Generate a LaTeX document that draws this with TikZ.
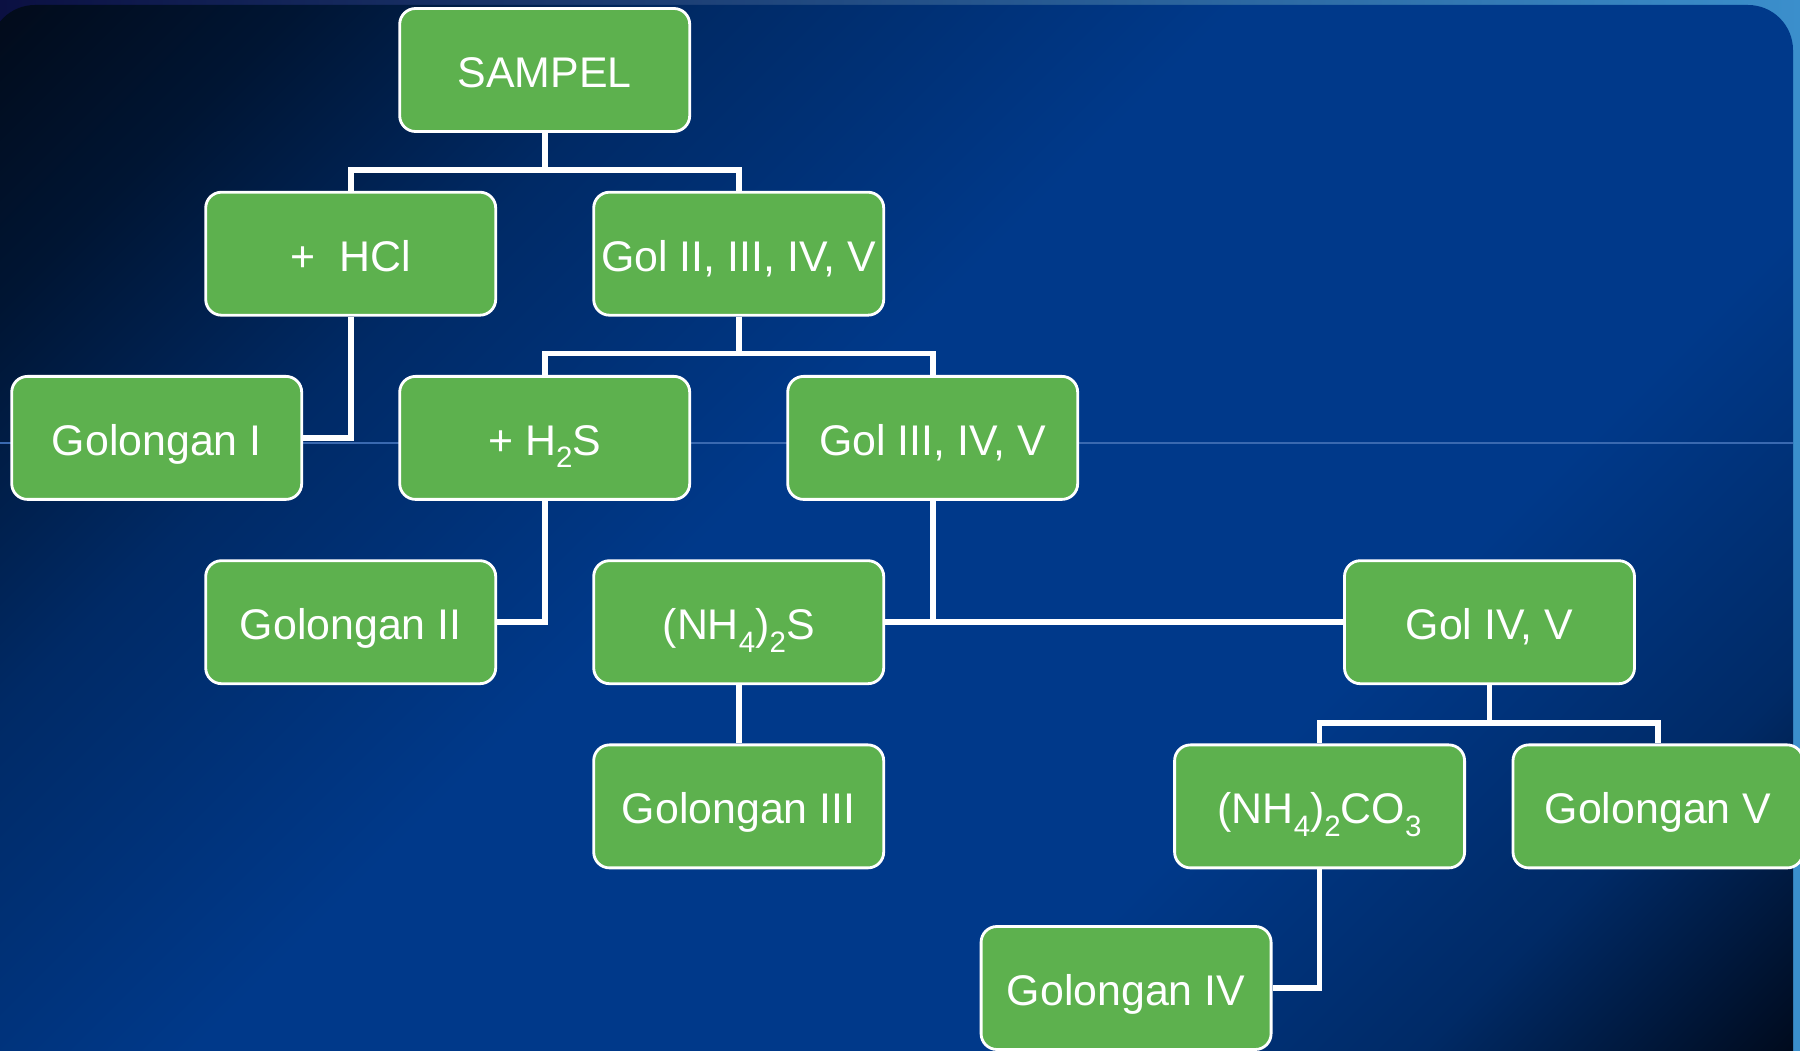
\documentclass[tikz,border=0pt]{standalone}
\usepackage{fontspec}
\setmainfont{Liberation Sans}
\usepackage{tikz}

\definecolor{boxgreen}{HTML}{5DB14E}
\definecolor{stripleft}{HTML}{0B1042}
\definecolor{stripmid}{HTML}{0D3E7A}
\definecolor{stripright}{HTML}{3B8FCC}
\definecolor{faintline}{HTML}{3A69B0}
\definecolor{bgdark}{HTML}{020A18}
\definecolor{bgdeep}{HTML}{001533}
\definecolor{bgnavy}{HTML}{002A66}
\definecolor{bgblue}{HTML}{00398A}
\definecolor{bgcorner}{HTML}{000B1E}
\pgfdeclareverticalshading{slidebg}{100bp}{color(0bp)=(bgcorner); color(16bp)=(bgcorner); color(25bp)=(bgnavy); color(36bp)=(bgblue); color(55bp)=(bgblue); color(68bp)=(bgnavy); color(78bp)=(bgdeep); color(86bp)=(bgdark); color(100bp)=(bgdark)}
\newcommand{\chemsub}[1]{\raisebox{-0.55ex}{\fontsize{8.4}{9}\selectfont #1}}

\begin{document}
\begin{tikzpicture}[
		box/.style={draw=white, line width=0.8pt, fill=boxgreen, rounded corners=4.5pt,
			minimum width=2.9cm, minimum height=1.23cm, inner sep=0pt,
			text height=0.37cm, text depth=0.02cm,
			text=white, font=\fontsize{12.2}{14}\selectfont},
		link/.style={draw=white, line width=1.6pt}]
			\useasboundingbox (0,0) rectangle (18,10.5);
			\shade[left color=stripleft, middle color=stripmid, right color=stripright] (0,0) rectangle (18,10.5);
			\shade[shading=slidebg, shading angle=45, rounded corners=0.45cm] (-0.1,-0.6) rectangle (17.93,10.45);
			\draw[faintline, line width=0.3pt] (0,6.07) -- (17.93,6.07);
			\node[box] (sampel) at (5.447,9.80) {SAMPEL};
			\node[box] (hcl) at (3.507,7.963) {+\ \ HCl};
			\node[box] (g2345) at (7.387,7.963) {Gol II, III, IV, V};
			\node[box] (gol1) at (1.567,6.121) {Golongan I};
			\node[box] (hhs) at (5.447,6.121) {+ H\chemsub{2}S};
			\node[box] (g345) at (9.327,6.121) {Gol III, IV, V};
			\node[box] (gol2) at (3.507,4.278) {Golongan II};
			\node[box] (nhs) at (7.387,4.278) {(NH\chemsub{4})\chemsub{2}S};
			\node[box] (g45) at (14.895,4.278) {Gol IV, V};
			\node[box] (gol3) at (7.387,2.436) {Golongan III};
			\node[box] (nhco) at (13.196,2.436) {(NH\chemsub{4})\chemsub{2}CO\chemsub{3}};
			\node[box] (gol5) at (16.58,2.436) {Golongan V};
			\node[box] (gol4) at (11.261,0.62) {Golongan IV};
			\draw[link] (sampel.south) -- ([yshift=-3.7mm]sampel.south);
			\draw[link] (hcl.north) |- ([yshift=-3.7mm]sampel.south) -| (g2345.north);
			\draw[link] (hcl.south) |- (gol1.east);
			\draw[link] (g2345.south) -- ([yshift=-3.7mm]g2345.south);
			\draw[link] (hhs.north) |- ([yshift=-3.7mm]g2345.south) -| (g345.north);
			\draw[link] (hhs.south) |- (gol2.east);
			\draw[link] (nhs.east) -- (g45.west);
			\draw[link] (g345.south) -- (g345.south |- nhs.east);
			\draw[link] (nhs.south) -- (gol3.north);
			\draw[link] (g45.south) -- ([yshift=-3.8mm]g45.south);
			\draw[link] (nhco.north) |- ([yshift=-3.8mm]g45.south) -| (gol5.north);
			\draw[link] (nhco.south) |- (gol4.east);
		\end{tikzpicture}
\end{document}
